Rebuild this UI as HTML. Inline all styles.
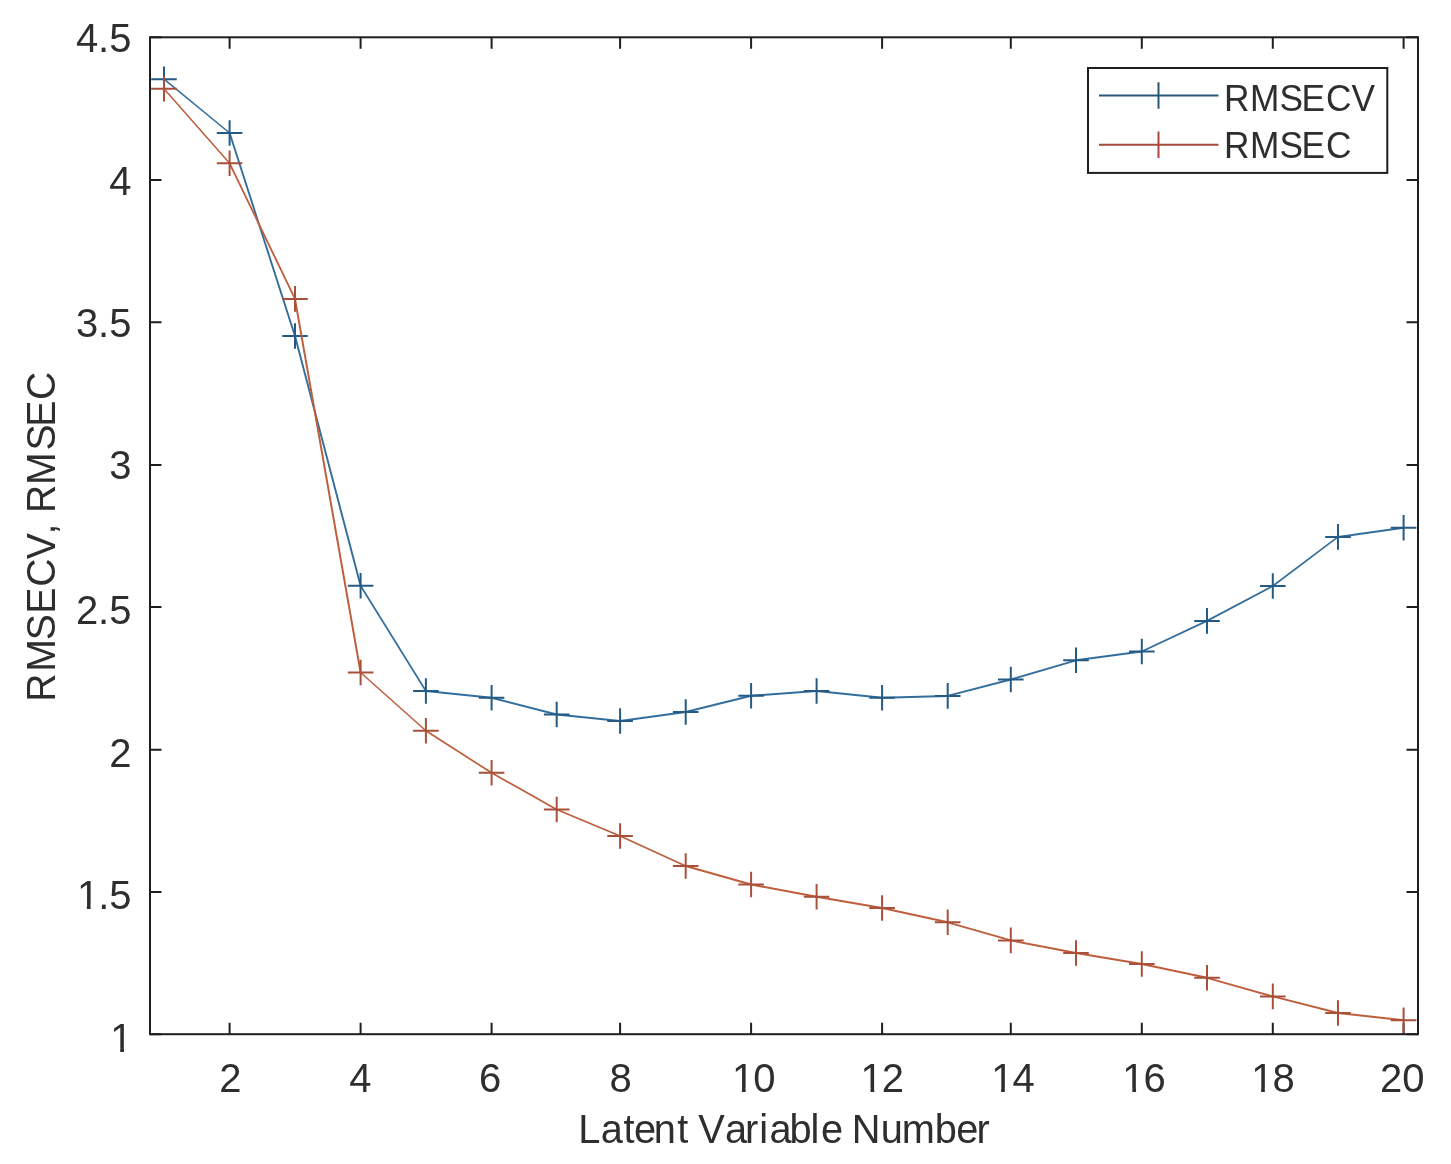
<!DOCTYPE html><html><head><meta charset="utf-8"><title>RMSECV, RMSEC vs Latent Variable Number</title><style>
html,body{margin:0;padding:0;background:#fff;width:1451px;height:1164px;overflow:hidden;}
svg{display:block;will-change:transform;}
text{font-family:"Liberation Sans",sans-serif;fill:#2e2e2e;font-kerning:none;}
</style></head><body>
<svg width="1451" height="1164" viewBox="0 0 1451 1164">
<rect width="1451" height="1164" fill="#fff"/>
<path d="M229.6 1034.2V1022.7M229.6 37.3V48.8M360.6 1034.2V1022.7M360.6 37.3V48.8M491.6 1034.2V1022.7M491.6 37.3V48.8M620.1 1034.2V1022.7M620.1 37.3V48.8M751.1 1034.2V1022.7M751.1 37.3V48.8M882.1 1034.2V1022.7M882.1 37.3V48.8M1010.8 1034.2V1022.7M1010.8 37.3V48.8M1141.8 1034.2V1022.7M1141.8 37.3V48.8M1272.8 1034.2V1022.7M1272.8 37.3V48.8M1403.6 1034.2V1022.7M1403.6 37.3V48.8M150 37.3H161.5M1418 37.3H1406.5M150 180.0H161.5M1418 180.0H1406.5M150 322.3H161.5M1418 322.3H1406.5M150 464.9H161.5M1418 464.9H1406.5M150 607.1H161.5M1418 607.1H1406.5M150 749.7H161.5M1418 749.7H1406.5M150 892.0H161.5M1418 892.0H1406.5M150 1034.2H161.5M1418 1034.2H1406.5" stroke="#1e1e1e" stroke-width="2" fill="none"/>
<g stroke="#336e9c" stroke-linecap="round" fill="none"><line x1="164.0" y1="79.2" x2="229.6" y2="133.0" stroke-width="1.55"/><line x1="229.6" y1="133.0" x2="295.0" y2="336.0" stroke-width="1.90"/><line x1="295.0" y1="336.0" x2="360.6" y2="585.8" stroke-width="1.93"/><line x1="360.6" y1="585.8" x2="425.9" y2="691.0" stroke-width="1.70"/><line x1="425.9" y1="691.0" x2="491.6" y2="697.7" stroke-width="1.99"/><line x1="491.6" y1="697.7" x2="556.7" y2="714.5" stroke-width="1.94"/><line x1="556.7" y1="714.5" x2="620.1" y2="721.0" stroke-width="1.99"/><line x1="620.1" y1="721.0" x2="685.7" y2="712.0" stroke-width="1.98"/><line x1="685.7" y1="712.0" x2="751.1" y2="695.8" stroke-width="1.94"/><line x1="751.1" y1="695.8" x2="816.6" y2="691.0" stroke-width="1.99"/><line x1="816.6" y1="691.0" x2="882.1" y2="697.8" stroke-width="1.99"/><line x1="882.1" y1="697.8" x2="947.7" y2="695.9" stroke-width="2.00"/><line x1="947.7" y1="695.9" x2="1010.8" y2="679.5" stroke-width="1.94"/><line x1="1010.8" y1="679.5" x2="1076.0" y2="660.3" stroke-width="1.92"/><line x1="1076.0" y1="660.3" x2="1141.8" y2="651.5" stroke-width="1.98"/><line x1="1141.8" y1="651.5" x2="1207.0" y2="620.9" stroke-width="1.81"/><line x1="1207.0" y1="620.9" x2="1272.8" y2="586.0" stroke-width="1.77"/><line x1="1272.8" y1="586.0" x2="1338.0" y2="536.9" stroke-width="1.60"/><line x1="1338.0" y1="536.9" x2="1403.6" y2="527.7" stroke-width="1.98"/></g>
<path d="M151.2 79.2h25.6M164.0 66.4v25.6M216.8 133.0h25.6M229.6 120.2v25.6M282.2 336.0h25.6M295.0 323.2v25.6M347.8 585.8h25.6M360.6 573.0v25.6M413.1 691.0h25.6M425.9 678.2v25.6M478.8 697.7h25.6M491.6 684.9v25.6M543.9 714.5h25.6M556.7 701.7v25.6M607.3 721.0h25.6M620.1 708.2v25.6M672.9 712.0h25.6M685.7 699.2v25.6M738.3 695.8h25.6M751.1 683.0v25.6M803.8 691.0h25.6M816.6 678.2v25.6M869.3 697.8h25.6M882.1 685.0v25.6M934.9 695.9h25.6M947.7 683.1v25.6M998.0 679.5h25.6M1010.8 666.7v25.6M1063.2 660.3h25.6M1076.0 647.5v25.6M1129.0 651.5h25.6M1141.8 638.7v25.6M1194.2 620.9h25.6M1207.0 608.1v25.6M1260.0 586.0h25.6M1272.8 573.2v25.6M1325.2 536.9h25.6M1338.0 524.1v25.6M1390.8 527.7h25.6M1403.6 514.9v25.6" stroke="#245a84" stroke-width="2" fill="none"/>
<g stroke="#be5e3c" stroke-linecap="round" fill="none"><line x1="164.0" y1="88.7" x2="229.6" y2="163.3" stroke-width="1.50"/><line x1="229.6" y1="163.3" x2="295.0" y2="298.9" stroke-width="1.80"/><line x1="295.0" y1="298.9" x2="360.6" y2="672.5" stroke-width="1.97"/><line x1="360.6" y1="672.5" x2="425.9" y2="730.8" stroke-width="1.49"/><line x1="425.9" y1="730.8" x2="491.6" y2="772.8" stroke-width="1.69"/><line x1="491.6" y1="772.8" x2="556.7" y2="809.5" stroke-width="1.74"/><line x1="556.7" y1="809.5" x2="620.1" y2="836.0" stroke-width="1.85"/><line x1="620.1" y1="836.0" x2="685.7" y2="866.0" stroke-width="1.82"/><line x1="685.7" y1="866.0" x2="751.1" y2="884.5" stroke-width="1.92"/><line x1="751.1" y1="884.5" x2="816.6" y2="896.7" stroke-width="1.97"/><line x1="816.6" y1="896.7" x2="882.1" y2="908.0" stroke-width="1.97"/><line x1="882.1" y1="908.0" x2="947.7" y2="922.3" stroke-width="1.95"/><line x1="947.7" y1="922.3" x2="1010.8" y2="940.4" stroke-width="1.92"/><line x1="1010.8" y1="940.4" x2="1076.0" y2="953.0" stroke-width="1.96"/><line x1="1076.0" y1="953.0" x2="1141.8" y2="964.0" stroke-width="1.97"/><line x1="1141.8" y1="964.0" x2="1207.0" y2="977.8" stroke-width="1.96"/><line x1="1207.0" y1="977.8" x2="1272.8" y2="996.4" stroke-width="1.92"/><line x1="1272.8" y1="996.4" x2="1338.0" y2="1013.0" stroke-width="1.94"/><line x1="1338.0" y1="1013.0" x2="1403.6" y2="1020.2" stroke-width="1.99"/></g>
<path d="M151.2 88.7h25.6M164.0 75.9v25.6M216.8 163.3h25.6M229.6 150.5v25.6M282.2 298.9h25.6M295.0 286.1v25.6M347.8 672.5h25.6M360.6 659.7v25.6M413.1 730.8h25.6M425.9 718.0v25.6M478.8 772.8h25.6M491.6 760.0v25.6M543.9 809.5h25.6M556.7 796.7v25.6M607.3 836.0h25.6M620.1 823.2v25.6M672.9 866.0h25.6M685.7 853.2v25.6M738.3 884.5h25.6M751.1 871.7v25.6M803.8 896.7h25.6M816.6 883.9v25.6M869.3 908.0h25.6M882.1 895.2v25.6M934.9 922.3h25.6M947.7 909.5v25.6M998.0 940.4h25.6M1010.8 927.6v25.6M1063.2 953.0h25.6M1076.0 940.2v25.6M1129.0 964.0h25.6M1141.8 951.2v25.6M1194.2 977.8h25.6M1207.0 965.0v25.6M1260.0 996.4h25.6M1272.8 983.6v25.6M1325.2 1013.0h25.6M1338.0 1000.2v25.6M1390.8 1020.2h25.6M1403.6 1007.4v25.6" stroke="#a8503a" stroke-width="2" fill="none"/>
<rect x="150" y="37.3" width="1268" height="996.9" fill="none" stroke="#1e1e1e" stroke-width="2"/>
<text x="75.89" y="52.00" font-size="40.0">4.5</text>
<text x="109.25" y="194.70" font-size="40.0">4</text>
<text x="75.89" y="336.80" font-size="40.0">3.5</text>
<text x="109.25" y="479.30" font-size="40.0">3</text>
<text x="75.89" y="624.20" font-size="40.0">2.5</text>
<text x="109.25" y="766.60" font-size="40.0">2</text>
<text x="75.89" y="909.20" font-size="40.0" dx="1.00 -1.00 0.00">1.5</text>
<text x="109.25" y="1051.60" font-size="40.0" dx="1.00">1</text>
<text x="219.28" y="1091.50" font-size="40.0">2</text>
<text x="349.28" y="1091.50" font-size="40.0">4</text>
<text x="478.88" y="1091.50" font-size="40.0">6</text>
<text x="609.38" y="1091.50" font-size="40.0">8</text>
<text x="730.95" y="1091.50" font-size="40.0" dx="1.00 -1.00">10</text>
<text x="859.55" y="1091.50" font-size="40.0" dx="1.00 -1.00">12</text>
<text x="990.15" y="1091.50" font-size="40.0" dx="1.00 -1.00">14</text>
<text x="1121.35" y="1091.50" font-size="40.0" dx="1.00 -1.00">16</text>
<text x="1250.15" y="1091.50" font-size="40.0" dx="1.00 -1.00">18</text>
<text x="1380.05" y="1091.50" font-size="40.0">20</text>
<rect x="78.65" y="905.61" width="8.20" height="4.59" fill="#fff"/>
<rect x="90.59" y="905.61" width="7.79" height="4.59" fill="#fff"/>
<rect x="112.01" y="1048.01" width="8.20" height="4.59" fill="#fff"/>
<rect x="123.95" y="1048.01" width="7.79" height="4.59" fill="#fff"/>
<rect x="733.71" y="1087.91" width="8.20" height="4.59" fill="#fff"/>
<rect x="745.65" y="1087.91" width="7.79" height="4.59" fill="#fff"/>
<rect x="862.31" y="1087.91" width="8.20" height="4.59" fill="#fff"/>
<rect x="874.25" y="1087.91" width="7.79" height="4.59" fill="#fff"/>
<rect x="992.91" y="1087.91" width="8.20" height="4.59" fill="#fff"/>
<rect x="1004.85" y="1087.91" width="7.79" height="4.59" fill="#fff"/>
<rect x="1124.11" y="1087.91" width="8.20" height="4.59" fill="#fff"/>
<rect x="1136.05" y="1087.91" width="7.79" height="4.59" fill="#fff"/>
<rect x="1252.91" y="1087.91" width="8.20" height="4.59" fill="#fff"/>
<rect x="1264.85" y="1087.91" width="7.79" height="4.59" fill="#fff"/>
<text transform="scale(0.9700,1)" x="596.23 619.39 642.68 653.52 673.88 698.14 709.53 719.92 747.33 768.10 782.62 793.21 813.96 835.69 846.40 869.20 877.98 907.96 929.55 963.75 985.78 1006.66" y="1142.6" font-size="40.99">Latent Variable Number</text>
<text transform="translate(55.2,700.00) rotate(-90) scale(0.9650,1)" x="-1.88 29.32 61.89 89.52 117.42 145.83 171.38 182.65 193.67 222.79 258.47 283.10 311.00" y="0" font-size="40.55">RMSECV, RMSEC</text>
<rect x="1088" y="68" width="299.3" height="104.9" fill="#fff" stroke="#1e1e1e" stroke-width="2"/>
<path d="M1099 95.5H1218.5M1158.5 82.3v26.4" stroke="#285878" stroke-width="2" fill="none"/>
<path d="M1099 144.8H1218.5M1158.5 131.6v26.4" stroke="#a8483a" stroke-width="2" fill="none"/>
<text transform="scale(0.9400,1)" x="1302.24 1329.80 1361.06 1384.69 1410.76 1437.71" y="110.8" font-size="37.50">RMSECV</text>
<text transform="scale(0.9400,1)" x="1302.24 1329.80 1361.06 1384.69 1410.76" y="157.6" font-size="37.50">RMSEC</text>
</svg></body></html>
